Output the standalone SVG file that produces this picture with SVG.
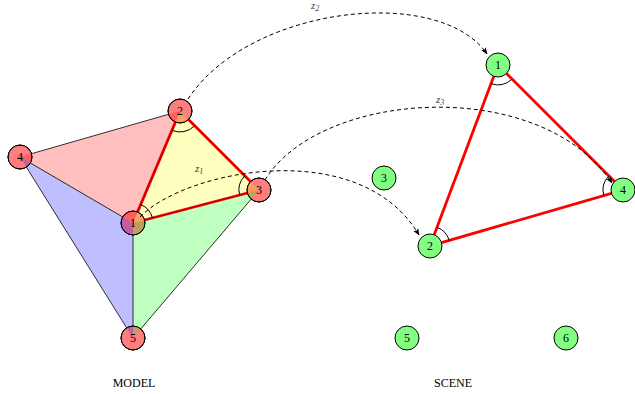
<svg xmlns="http://www.w3.org/2000/svg" width="635" height="394" viewBox="0 0 635 394">
<style>
.nr{fill:#ff7f7f;stroke:#000;stroke-width:1}
.ng{fill:#80ff80;stroke:#000;stroke-width:1}
.nt{font-family:"Liberation Serif",serif;font-size:12px;text-anchor:middle;fill:#000}
.face{stroke:none;opacity:0.25}
.edge{stroke:#000;stroke-width:0.8;fill:none}
.red{stroke:#ff0000;stroke-width:2.8;fill:none}
.core{stroke:#600;stroke-width:0.6;fill:none}
.arc{stroke:#000;stroke-width:1;fill:none}
.dash{stroke:#000;stroke-width:1;fill:none;stroke-dasharray:4,3}
.zl{font-family:"Liberation Serif",serif;font-style:italic;font-size:11px;fill:#444}
.cap{font-family:"Liberation Serif",serif;font-size:12px;text-anchor:middle;fill:#000}
</style>
<defs>
<marker id="ah" viewBox="0 0 10 10" refX="9" refY="5" markerWidth="7" markerHeight="7" orient="auto" markerUnits="userSpaceOnUse">
<path d="M0,1 L10,5 L0,9 L2,5 Z" fill="#000"/>
</marker>
</defs>
<g id="model-nodes">
<g id="m1"><circle class="nr" cx="133" cy="223" r="12"/></g>
<g id="m2"><circle class="nr" cx="180" cy="111" r="12"/></g>
<g id="m3"><circle class="nr" cx="259" cy="190" r="12"/></g>
<g id="m4"><circle class="nr" cx="20" cy="157" r="12"/></g>
<g id="m5"><circle class="nr" cx="133" cy="338" r="12"/></g>
</g>
<g id="faces">
<polygon class="face" fill="#ff0000" points="20,157 180,111 133,223"/>
<polygon class="face" fill="#ffff00" points="133,223 180,111 259,190"/>
<polygon class="face" fill="#00ff00" points="133,223 259,190 133,338"/>
<polygon class="face" fill="#0000ff" points="20,157 133,223 133,338"/>
</g>
<g id="model-edges">
<line class="edge" x1="31.5" y1="153.7" x2="168.5" y2="114.3"/>
<line class="edge" x1="30.4" y1="163" x2="122.6" y2="216.9"/>
<line class="edge" x1="26.4" y1="167.2" x2="126.6" y2="327.8"/>
<line class="edge" x1="133" y1="235" x2="133" y2="326"/>
<line class="edge" x1="251.2" y1="199.1" x2="140.8" y2="328.9"/>
<line class="red" x1="137.6" y1="211.9" x2="175.4" y2="122.1"/>
<line class="red" x1="188.5" y1="119.5" x2="250.5" y2="181.5"/>
<line class="red" x1="144.6" y1="220" x2="247.4" y2="193"/>
<line class="core" x1="137.6" y1="211.9" x2="175.4" y2="122.1"/>
<line class="core" x1="188.5" y1="119.5" x2="250.5" y2="181.5"/>
<line class="core" x1="144.6" y1="220" x2="247.4" y2="193"/>
<path class="arc" d="M140.8,204.6 A20,20 0 0 1 152.4,217.9"/>
<path class="arc" d="M194.2,126.1 A20,20 0 0 1 172.2,130.4"/>
<path class="arc" d="M239.6,195.1 A20,20 0 0 1 244.8,175.9"/>
</g>
<g id="model-labels">
<circle cx="133" cy="223" r="12" fill="none" stroke="#000"/>
<circle cx="180" cy="111" r="12" fill="none" stroke="#000"/>
<circle cx="259" cy="190" r="12" fill="none" stroke="#000"/>
<circle cx="20" cy="157" r="12" fill="none" stroke="#000"/>
<circle cx="133" cy="338" r="12" fill="none" stroke="#000"/>
<text class="nt" x="133" y="227">1</text>
<text class="nt" x="180" y="115">2</text>
<text class="nt" x="259" y="194">3</text>
<text class="nt" x="20" y="161">4</text>
<text class="nt" x="133" y="342">5</text>
</g>
<g id="scene-edges">
<line class="red" x1="493.8" y1="76.2" x2="434.2" y2="234.8"/>
<line class="red" x1="506.5" y1="73.5" x2="614.5" y2="181.5"/>
<line class="red" x1="441.5" y1="242.7" x2="611.5" y2="193.3"/>
<path class="arc" d="M512.1,79.1 A20,20 0 0 1 491,83.7"/>
<path class="arc" d="M437,227.3 A20,20 0 0 1 449.2,240.4"/>
<path class="arc" d="M603.8,195.6 A20,20 0 0 1 608.9,175.9"/>
</g>
<g id="scene-nodes">
<g id="s1"><circle class="ng" cx="498" cy="65" r="12"/><text class="nt" x="498" y="69">1</text></g>
<g id="s2"><circle class="ng" cx="430" cy="246" r="12"/><text class="nt" x="430" y="250">2</text></g>
<g id="s3"><circle class="ng" cx="384" cy="178" r="12"/><text class="nt" x="384" y="182">3</text></g>
<g id="s4"><circle class="ng" cx="623" cy="190" r="12"/><text class="nt" x="623" y="194">4</text></g>
<g id="s5"><circle class="ng" cx="407" cy="338" r="12"/><text class="nt" x="407" y="342">5</text></g>
<g id="s6"><circle class="ng" cx="566" cy="338" r="12"/><text class="nt" x="566" y="342">6</text></g>
</g>
<g id="connectors">
<path class="dash" d="M140,217 C185,170 360,135 419,235" marker-end="url(#ah)"/>
<path class="dash" d="M188,99 C250,5 440,-15 487,54" marker-end="url(#ah)"/>
<path class="dash" d="M265,180 C320,90 540,75 612,183" marker-end="url(#ah)"/>
<text class="zl" x="195" y="172">z<tspan font-size="8" dy="2">1</tspan></text>
<text class="zl" x="311" y="9">z<tspan font-size="8" dy="2">2</tspan></text>
<text class="zl" x="436" y="103">z<tspan font-size="8" dy="2">3</tspan></text>
</g>
<text class="cap" x="134" y="387">MODEL</text>
<text class="cap" x="453" y="387">SCENE</text>
</svg>
